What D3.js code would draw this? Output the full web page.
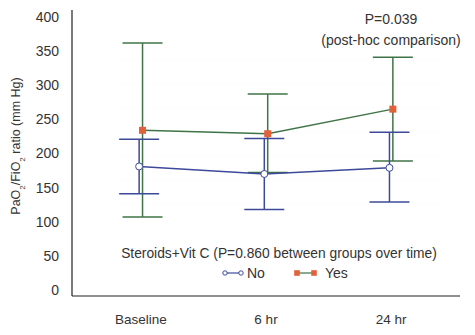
<!DOCTYPE html>
<html>
<head>
<meta charset="utf-8">
<script src="https://cdn.jsdelivr.net/npm/d3@7"></script>
<style>
  body { margin: 0; background: #fff; }
  text { font-family: "Liberation Sans", sans-serif; fill: #333; }
</style>
</head>
<body>
<div id="chart"></div>
<script>
// time points
const timePoints = ['Baseline', '6 hr', '24 hr'];

// steroids + vit C: No
const noMean = [181, 170, 179];
const noLow = [141, 118, 129];
const noHigh = [221, 222, 231];

// steroids + vit C: Yes
const yesMean = [234, 229, 265];
const yesLow = [107, 172, 189];
const yesHigh = [362, 287, 341];

const yTicks = [0, 50, 100, 150, 200, 250, 300, 350, 400];

const width = 475, height = 335;
const green = '#3f7446', blue = '#3d4a99', orange = '#e2603a';

const svg = d3.select('#chart').append('svg')
    .attr('width', width)
    .attr('height', height);

const x = d3.scalePoint()
    .domain(timePoints)
    .range([72, 460])
    .padding(0.55);

const y = d3.scaleLinear()
    .domain([0, 400])
    .range([290, 17]);

// faint dotted background grid
const grid = svg.append('g');
d3.range(48, 228, 12).forEach(gy => {
    grid.append('line')
        .attr('x1', 125).attr('x2', 445)
        .attr('y1', gy).attr('y2', gy)
        .attr('stroke', '#eef0f0').attr('stroke-width', 1)
        .attr('stroke-dasharray', '1,7');
});

// axes lines
svg.append('line')
    .attr('x1', 72).attr('x2', 72)
    .attr('y1', 10).attr('y2', 296)
    .attr('stroke', '#222').attr('stroke-width', 1.2);
svg.append('line')
    .attr('x1', 72).attr('x2', 460)
    .attr('y1', 296).attr('y2', 296)
    .attr('stroke', '#222').attr('stroke-width', 1.2);

// y tick labels
svg.selectAll('.ytick')
    .data(yTicks)
  .enter().append('text')
    .attr('x', 59)
    .attr('y', d => y(d))
    .attr('dy', '0.35em')
    .attr('text-anchor', 'end')
    .style('font-size', '14px')
    .text(d => d);

// x labels
svg.selectAll('.xlab')
    .data(timePoints)
  .enter().append('text')
    .attr('x', d => x(d))
    .attr('y', 319)
    .attr('dy', '0.35em')
    .attr('text-anchor', 'middle')
    .style('font-size', '13.5px')
    .text(d => d);

// y axis title
const yt = svg.append('text')
    .attr('transform', 'translate(16,146) rotate(-90)')
    .attr('text-anchor', 'middle')
    .attr('dy', '0.35em')
    .style('font-size', '12.5px');
yt.append('tspan').text('PaO');
yt.append('tspan').attr('baseline-shift', 'sub').style('font-size', '8px').text('2');
yt.append('tspan').text('/FiO');
yt.append('tspan').attr('baseline-shift', 'sub').style('font-size', '8px').text('2');
yt.append('tspan').text(' ratio (mm Hg)');

function drawGroup(mean, low, high, offset, color, isYes) {
    const g = svg.append('g');
    const cx = d => x(d) + offset;
    const data = timePoints.map((t, i) => ({t: t, m: mean[i], lo: low[i], hi: high[i]}));

    // whiskers
    g.selectAll('.whisk')
        .data(data)
      .enter().append('line')
        .attr('x1', d => cx(d.t)).attr('x2', d => cx(d.t))
        .attr('y1', d => y(d.lo)).attr('y2', d => y(d.hi))
        .attr('stroke', color).attr('stroke-width', 1.5);
    ['lo', 'hi'].forEach(k => {
        g.selectAll('.cap' + k)
            .data(data)
          .enter().append('line')
            .attr('x1', d => cx(d.t) - 20).attr('x2', d => cx(d.t) + 20)
            .attr('y1', d => y(d[k])).attr('y2', d => y(d[k]))
            .attr('stroke', color).attr('stroke-width', 1.5);
    });

    const line = d3.line()
        .x(d => cx(d.t))
        .y(d => y(d.m));
    g.append('path')
        .datum(data)
        .attr('d', line)
        .attr('fill', 'none')
        .attr('stroke', color)
        .attr('stroke-width', 1.5);

    if (isYes) {
        g.selectAll('.pt')
            .data(data)
          .enter().append('rect')
            .attr('x', d => cx(d.t) - 3.5)
            .attr('y', d => y(d.m) - 3.5)
            .attr('width', 7).attr('height', 7)
            .attr('fill', orange);
    } else {
        g.selectAll('.pt')
            .data(data)
          .enter().append('circle')
            .attr('cx', d => cx(d.t))
            .attr('cy', d => y(d.m))
            .attr('r', 3.5)
            .attr('fill', '#fff')
            .attr('stroke', blue).attr('stroke-width', 1);
    }
}

drawGroup(yesMean, yesLow, yesHigh, 1.7, green, true);
drawGroup(noMean, noLow, noHigh, -1.7, blue, false);

// annotation
svg.append('text')
    .attr('x', 391).attr('y', 19)
    .attr('dy', '0.35em')
    .attr('text-anchor', 'middle')
    .style('font-size', '14px')
    .text('P=0.039');
svg.append('text')
    .attr('x', 391).attr('y', 40)
    .attr('dy', '0.35em')
    .attr('text-anchor', 'middle')
    .style('font-size', '14px')
    .text('(post-hoc comparison)');

// legend
svg.append('text')
    .attr('x', 279).attr('y', 253)
    .attr('dy', '0.35em')
    .attr('text-anchor', 'middle')
    .style('font-size', '13.8px')
    .text('Steroids+Vit C (P=0.860 between groups over time)');

const lg = svg.append('g');
lg.append('line').attr('x1', 225).attr('x2', 241).attr('y1', 273).attr('y2', 273)
    .attr('stroke', blue).attr('stroke-width', 1.2);
[225, 241].forEach(px => lg.append('circle').attr('cx', px).attr('cy', 273).attr('r', 2.2)
    .attr('fill', '#fff').attr('stroke', blue).attr('stroke-width', 1));
lg.append('text').attr('x', 247).attr('y', 273).attr('dy', '0.35em')
    .style('font-size', '14px').text('No');

lg.append('line').attr('x1', 297).attr('x2', 314).attr('y1', 273).attr('y2', 273)
    .attr('stroke', green).attr('stroke-width', 1.2);
[297, 314].forEach(px => lg.append('rect').attr('x', px - 2.8).attr('y', 270.2)
    .attr('width', 5.6).attr('height', 5.6).attr('fill', orange));
lg.append('text').attr('x', 325).attr('y', 273).attr('dy', '0.35em')
    .style('font-size', '14px').text('Yes');
</script>
</body>
</html>
